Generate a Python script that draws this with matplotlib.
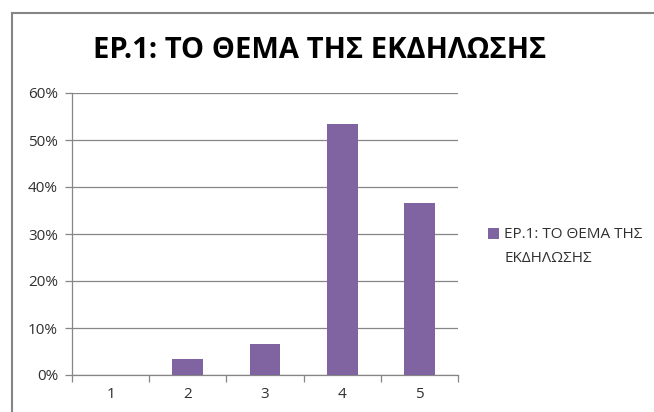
import matplotlib.pyplot as plt
from matplotlib.lines import Line2D
from matplotlib.ticker import PercentFormatter

plt.rcParams['font.family'] = ['Open Sans', 'DejaVu Sans']

title = "ΕΡ.1: ΤΟ ΘΕΜΑ ΤΗΣ ΕΚΔΗΛΩΣΗΣ"
series_label = ["ΕΡ.1: ΤΟ ΘΕΜΑ ΤΗΣ", "ΕΚΔΗΛΩΣΗΣ"]
categories = [1, 2, 3, 4, 5]
shares = [0.0, 1 / 30, 2 / 30, 16 / 30, 11 / 30]

bar_color = '#8064A2'
grid_color = '#868686'
text_color = '#303030'

fig = plt.figure(figsize=(6.54, 4.12), dpi=100)
ax = fig.add_axes([72 / 654, 37 / 412, 386 / 654, 282 / 412])

# chart area border (only top and left edges fall inside the picture)
fig.add_artist(Line2D([12 / 654, 12 / 654], [0, 1 - 13 / 412],
                      transform=fig.transFigure, color=grid_color, lw=1.5))
fig.add_artist(Line2D([12 / 654, 1], [1 - 13 / 412, 1 - 13 / 412],
                      transform=fig.transFigure, color=grid_color, lw=1.5))

ax.bar(categories, shares, width=0.4, color=bar_color, zorder=3,
       label=series_label[0])

ax.set_xlim(0.5, 5.5)
ax.set_ylim(0, 0.6)
ax.set_yticks([i / 10 for i in range(7)])
ax.yaxis.set_major_formatter(PercentFormatter(1.0, decimals=0))
ax.set_xticks(categories)
ax.set_xticks([c + 0.5 for c in [0] + categories], minor=True)

ax.grid(axis='y', color=grid_color, lw=0.9, zorder=0)
for side in ['top', 'right']:
    ax.spines[side].set_visible(False)
for side in ['left', 'bottom']:
    ax.spines[side].set_color(grid_color)
    ax.spines[side].set_linewidth(0.9)

ax.tick_params(axis='y', length=5, color=grid_color, width=0.9,
               labelsize=11, labelcolor=text_color, pad=5)
ax.tick_params(axis='x', which='major', length=0, labelsize=11,
               labelcolor=text_color, pad=9)
ax.tick_params(axis='x', which='minor', length=5, color=grid_color, width=0.9)

fig.text(0.488, 1 - 50 / 412, title, ha='center', va='center',
         fontsize=21, fontweight='bold', color='black')

leg = ax.legend(loc='center left', bbox_to_anchor=(488 / 654, 1 - 235 / 412),
                bbox_transform=fig.transFigure, frameon=False, fontsize=11,
                handlelength=0.75, handleheight=0.75, handletextpad=0.3,
                labelcolor=text_color, borderaxespad=0, borderpad=0)

# second line of the legend label, aligned with the first
fig.canvas.draw()
first = leg.get_texts()[0].get_window_extent()
x0 = first.x0 / fig.bbox.width
fig.text(x0, 1 - 258 / 412, series_label[1], ha='left', va='center',
         fontsize=11, color=text_color)

fig.savefig('out.png', dpi=100)
